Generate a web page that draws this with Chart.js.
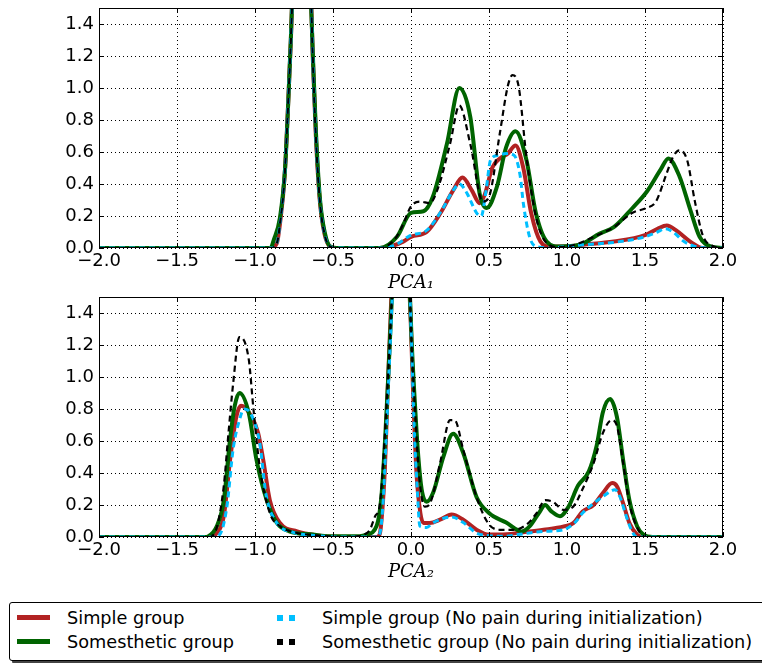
<!DOCTYPE html>
<html>
<head>
<meta charset="utf-8">
<script src="https://cdn.jsdelivr.net/npm/chart.js@4.4.1/dist/chart.umd.min.js"></script>
<style>
  body { margin: 0; background: #fff; width: 762px; height: 663px; overflow: hidden; position: relative; font-family: "DejaVu Sans", sans-serif; }
  canvas { position: absolute; left: 0; }
  #pca1 { top: 0; }
  #pca2 { top: 289px; }
  .legend-box { position: absolute; left: 9px; top: 602px; width: 790px; height: 57px; border: 1px solid #000; border-radius: 3px; background: #fff; box-shadow: 3px 3px 0 #444; }
  .item { position: absolute; font-size: 17.7px; line-height: 20px; color: #000; white-space: nowrap; }
  .swatch { position: absolute; }
</style>
</head>
<body>
<canvas id="pca1" width="762" height="296"></canvas>
<canvas id="pca2" width="762" height="296"></canvas>

<div class="legend-box"></div>
<div class="swatch" style="left:17px;top:615px;width:33px;height:5px;background:#b22222"></div>
<div class="item" style="left:67px;top:608px">Simple group</div>
<div class="swatch" style="left:17px;top:639px;width:33px;height:5px;background:#006400"></div>
<div class="item" style="left:67px;top:632px">Somesthetic group</div>
<div class="swatch" style="left:277px;top:615px;width:6px;height:6px;background:#00bfff"></div>
<div class="swatch" style="left:289px;top:615px;width:6px;height:6px;background:#00bfff"></div>
<div class="item" style="left:322px;top:608px">Simple group (No pain during initialization)</div>
<div class="swatch" style="left:277px;top:639px;width:6px;height:6px;background:#000"></div>
<div class="swatch" style="left:289px;top:639px;width:6px;height:6px;background:#000"></div>
<div class="item" style="left:322px;top:632px">Somesthetic group (No pain during initialization)</div>

<script>
// axis ticks
const xTicks = [-2.0, -1.5, -1.0, -0.5, 0.0, 0.5, 1.0, 1.5, 2.0];
const yTicks = [0.0, 0.2, 0.4, 0.6, 0.8, 1.0, 1.2, 1.4];

const seriesNames = [
  "Simple group",
  "Somesthetic group",
  "Simple group (No pain during initialization)",
  "Somesthetic group (No pain during initialization)"
];

// PCA1 densities, [x, y]
const pca1Simple = [[-2.0,0],[-0.9,0],[-0.86,0.03],[-0.84,0.15],[-0.81,0.45],[-0.79,0.85],[-0.77,1.3],[-0.75,1.9],[-0.72,2.55],[-0.70,2.7],[-0.68,2.55],[-0.65,1.9],[-0.63,1.2],[-0.61,0.7],[-0.585,0.3],[-0.555,0.09],[-0.52,0.01],[-0.48,0],[-0.2,0],[-0.13,0.01],[-0.05,0.04],[0.0,0.07],[0.1,0.1],[0.19,0.22],[0.27,0.36],[0.33,0.44],[0.39,0.36],[0.44,0.28],[0.475,0.34],[0.52,0.5],[0.57,0.56],[0.62,0.59],[0.67,0.64],[0.72,0.5],[0.77,0.22],[0.83,0.04],[0.89,0.01],[1.0,0.01],[1.1,0.02],[1.3,0.04],[1.5,0.08],[1.58,0.12],[1.64,0.14],[1.7,0.11],[1.79,0.04],[1.87,0],[2.0,0]];
const pca1Somesthetic = [[-2.0,0],[-0.9,0],[-0.88,0.05],[-0.84,0.19],[-0.807,0.5],[-0.786,0.93],[-0.769,1.34],[-0.75,1.9],[-0.72,2.55],[-0.70,2.7],[-0.68,2.55],[-0.655,1.9],[-0.626,1.13],[-0.609,0.72],[-0.583,0.3],[-0.551,0.09],[-0.519,0.01],[-0.48,0],[-0.2,0],[-0.09,0.07],[0.0,0.22],[0.08,0.23],[0.14,0.32],[0.23,0.65],[0.31,1.0],[0.38,0.82],[0.44,0.34],[0.485,0.25],[0.55,0.38],[0.61,0.63],[0.67,0.73],[0.74,0.55],[0.8,0.22],[0.87,0.04],[0.95,0.01],[1.08,0.02],[1.21,0.09],[1.3,0.13],[1.42,0.25],[1.51,0.35],[1.6,0.49],[1.65,0.56],[1.72,0.45],[1.79,0.24],[1.85,0.07],[1.92,0.01],[2.0,0]];
const pca1SimpleNP = [[-2.0,0],[-0.9,0],[-0.86,0.03],[-0.84,0.15],[-0.81,0.45],[-0.79,0.85],[-0.77,1.3],[-0.75,1.9],[-0.72,2.55],[-0.70,2.7],[-0.68,2.55],[-0.65,1.9],[-0.63,1.2],[-0.61,0.7],[-0.585,0.3],[-0.555,0.09],[-0.52,0.01],[-0.48,0],[-0.2,0],[-0.1,0.02],[0.0,0.08],[0.1,0.11],[0.2,0.24],[0.27,0.36],[0.31,0.4],[0.36,0.34],[0.42,0.22],[0.45,0.2],[0.48,0.35],[0.51,0.55],[0.56,0.58],[0.61,0.59],[0.66,0.58],[0.7,0.45],[0.72,0.28],[0.76,0.07],[0.8,0.01],[0.9,0],[1.0,0.01],[1.1,0.02],[1.3,0.035],[1.5,0.07],[1.58,0.1],[1.63,0.12],[1.68,0.1],[1.75,0.04],[1.82,0.01],[1.9,0],[2.0,0]];
const pca1SomestheticNP = [[-2.0,0],[-0.9,0],[-0.86,0.03],[-0.84,0.15],[-0.81,0.45],[-0.79,0.85],[-0.77,1.3],[-0.75,1.9],[-0.72,2.55],[-0.70,2.7],[-0.68,2.55],[-0.65,1.9],[-0.63,1.2],[-0.61,0.7],[-0.585,0.3],[-0.555,0.09],[-0.52,0.01],[-0.48,0],[-0.2,0],[-0.1,0.06],[-0.05,0.15],[0.0,0.26],[0.06,0.29],[0.12,0.28],[0.175,0.38],[0.25,0.65],[0.31,0.89],[0.38,0.65],[0.46,0.29],[0.5,0.32],[0.57,0.72],[0.62,1.01],[0.65,1.08],[0.69,1.01],[0.74,0.57],[0.8,0.2],[0.87,0.03],[0.95,0.005],[1.05,0.02],[1.17,0.07],[1.3,0.13],[1.42,0.22],[1.51,0.25],[1.57,0.29],[1.64,0.47],[1.68,0.57],[1.72,0.61],[1.77,0.55],[1.82,0.29],[1.87,0.08],[1.94,0.01],[2.0,0]];

// PCA2 densities, [x, y]
const pca2Simple = [[-2.0,0],[-1.3,0],[-1.245,0.025],[-1.2,0.13],[-1.16,0.48],[-1.12,0.75],[-1.09,0.82],[-1.03,0.765],[-0.98,0.65],[-0.947,0.48],[-0.905,0.23],[-0.84,0.088],[-0.73,0.035],[-0.6,0.01],[-0.45,0],[-0.22,0],[-0.2,0.02],[-0.185,0.15],[-0.167,0.44],[-0.15,0.9],[-0.13,1.4],[-0.11,1.9],[-0.08,2.25],[-0.06,2.3],[-0.04,2.2],[-0.02,1.8],[0.0,1.3],[0.015,0.86],[0.035,0.4],[0.06,0.15],[0.08,0.088],[0.12,0.088],[0.19,0.11],[0.26,0.14],[0.335,0.108],[0.42,0.046],[0.5,0.015],[0.57,0.015],[0.72,0.03],[0.85,0.045],[0.98,0.066],[1.04,0.087],[1.1,0.16],[1.17,0.2],[1.23,0.275],[1.29,0.337],[1.32,0.317],[1.36,0.21],[1.4,0.087],[1.45,0.015],[1.49,0],[2.0,0]];
const pca2Somesthetic = [[-2.0,0],[-1.32,0],[-1.3,0.004],[-1.245,0.067],[-1.2,0.23],[-1.16,0.61],[-1.13,0.82],[-1.1,0.9],[-1.04,0.775],[-0.99,0.48],[-0.925,0.23],[-0.86,0.088],[-0.78,0.035],[-0.63,0.015],[-0.52,0.004],[-0.33,0.005],[-0.285,0.015],[-0.22,0.07],[-0.19,0.25],[-0.166,0.61],[-0.145,1.02],[-0.128,1.38],[-0.1,1.95],[-0.07,2.3],[-0.04,2.2],[-0.01,1.6],[0.004,1.23],[0.026,0.82],[0.047,0.5],[0.068,0.3],[0.1,0.22],[0.143,0.28],[0.207,0.5],[0.27,0.645],[0.335,0.525],[0.42,0.25],[0.5,0.15],[0.61,0.09],[0.71,0.035],[0.76,0.066],[0.82,0.15],[0.86,0.2],[0.9,0.16],[0.955,0.13],[1.01,0.19],[1.07,0.32],[1.14,0.41],[1.19,0.57],[1.23,0.78],[1.276,0.862],[1.32,0.75],[1.36,0.48],[1.4,0.23],[1.45,0.066],[1.49,0.015],[1.55,0],[2.0,0]];
const pca2SimpleNP = [[-2.0,0],[-1.26,0],[-1.22,0.025],[-1.18,0.19],[-1.14,0.55],[-1.1,0.73],[-1.07,0.8],[-1.03,0.775],[-0.97,0.59],[-0.93,0.27],[-0.86,0.088],[-0.76,0.03],[-0.6,0.008],[-0.45,0],[-0.22,0],[-0.2,0.02],[-0.18,0.2],[-0.16,0.6],[-0.14,1.05],[-0.12,1.5],[-0.09,2.1],[-0.06,2.3],[-0.03,2.1],[-0.01,1.6],[0.004,1.2],[0.02,0.7],[0.04,0.3],[0.057,0.067],[0.1,0.06],[0.143,0.09],[0.26,0.125],[0.335,0.09],[0.42,0.025],[0.5,0.008],[0.6,0.005],[0.72,0.02],[0.85,0.035],[0.976,0.045],[1.05,0.09],[1.1,0.15],[1.17,0.21],[1.24,0.26],[1.307,0.295],[1.34,0.25],[1.38,0.13],[1.42,0.03],[1.45,0],[2.0,0]];
const pca2SomestheticNP = [[-2.0,0],[-1.3,0],[-1.245,0.06],[-1.2,0.32],[-1.17,0.65],[-1.14,0.96],[-1.1,1.25],[-1.04,1.11],[-1.01,0.8],[-0.97,0.44],[-0.905,0.15],[-0.84,0.067],[-0.75,0.03],[-0.6,0.01],[-0.45,0],[-0.33,0.005],[-0.3,0.015],[-0.263,0.046],[-0.23,0.13],[-0.2,0.2],[-0.17,0.6],[-0.145,1.05],[-0.125,1.45],[-0.1,1.95],[-0.07,2.3],[-0.04,2.2],[-0.01,1.6],[0.004,1.2],[0.026,0.8],[0.047,0.45],[0.068,0.25],[0.09,0.19],[0.122,0.21],[0.186,0.46],[0.25,0.73],[0.28,0.73],[0.335,0.545],[0.42,0.25],[0.495,0.085],[0.57,0.045],[0.656,0.045],[0.74,0.077],[0.806,0.15],[0.86,0.23],[0.91,0.22],[0.976,0.17],[1.04,0.19],[1.1,0.3],[1.17,0.46],[1.23,0.65],[1.286,0.73],[1.318,0.7],[1.36,0.46],[1.4,0.21],[1.457,0.045],[1.51,0],[2.0,0]];

const minus = (v) => v.toFixed(1).replace("-", "\u2212");

// black frame + inward ticks on all four sides (matplotlib classic look)
const framePlugin = {
  id: "frame",
  afterDraw(chart) {
    const { ctx, chartArea: a, scales: { x, y } } = chart;
    ctx.save();
    ctx.strokeStyle = "#000";
    ctx.lineWidth = 1;
    ctx.strokeRect(Math.round(a.left) + 0.5, Math.round(a.top) + 0.5, Math.round(a.width) - 1, Math.round(a.height) - 1);
    ctx.beginPath();
    xTicks.forEach((v) => {
      const px = Math.round(x.getPixelForValue(v)) + 0.5;
      ctx.moveTo(px, a.bottom); ctx.lineTo(px, a.bottom - 5);
      ctx.moveTo(px, a.top); ctx.lineTo(px, a.top + 5);
    });
    yTicks.forEach((v) => {
      const py = Math.round(y.getPixelForValue(v)) + 0.5;
      ctx.moveTo(a.left, py); ctx.lineTo(a.left + 5, py);
      ctx.moveTo(a.right, py); ctx.lineTo(a.right - 5, py);
    });
    ctx.stroke();
    ctx.restore();
  }
};

function makeDataset(label, points, color, width, dash, order) {
  return {
    label,
    data: points.map((p) => ({ x: p[0], y: p[1] })),
    borderColor: color,
    backgroundColor: color,
    borderWidth: width,
    borderDash: dash,
    pointRadius: 0,
    cubicInterpolationMode: "monotone",
    clip: 0,
    order
  };
}

function renderPanel(canvasId, title, simple, somesthetic, simpleNP, somestheticNP) {
  return new Chart(document.getElementById(canvasId), {
    type: "line",
    data: {
      datasets: [
        makeDataset(seriesNames[0], simple, "#b22222", 4, [], 4),
        makeDataset(seriesNames[1], somesthetic, "#006400", 4, [], 3),
        makeDataset(seriesNames[2], simpleNP, "#00bfff", 3, [6, 4], 2),
        makeDataset(seriesNames[3], somestheticNP, "#000000", 2.2, [6, 4], 1)
      ]
    },
    options: {
      responsive: false,
      animation: false,
      devicePixelRatio: 1,
      layout: { padding: { left: 0, right: 39, top: 8, bottom: 0 } },
      plugins: { legend: { display: false }, tooltip: { enabled: false } },
      scales: {
        x: {
          type: "linear",
          min: -2,
          max: 2,
          afterBuildTicks: (s) => { s.ticks = xTicks.map((v) => ({ value: v })); },
          afterFit: (s) => { s.height = 48; s.paddingLeft = 0; s.paddingRight = 0; },
          ticks: { color: "#000", padding: 3, maxRotation: 0, font: { family: "DejaVu Sans", size: 18 }, callback: (v) => minus(v) },
          grid: { color: "#000", lineWidth: 1, drawTicks: false },
          border: { display: false, dash: [1, 3] },
          title: { display: true, text: title, color: "#000", padding: { top: 0, bottom: 2 }, font: { family: "DejaVu Serif", style: "italic", size: 18 } }
        },
        y: {
          min: 0,
          max: 1.5,
          afterBuildTicks: (s) => { s.ticks = yTicks.map((v) => ({ value: v })); },
          afterFit: (s) => { s.width = 99; s.paddingTop = 0; s.paddingBottom = 0; },
          ticks: { color: "#000", padding: 5, font: { family: "DejaVu Sans", size: 18 }, callback: (v) => v.toFixed(1) },
          grid: { color: "#000", lineWidth: 1, drawTicks: false },
          border: { display: false, dash: [1, 3] }
        }
      }
    },
    plugins: [framePlugin]
  });
}

renderPanel("pca1", "PCA\u2081", pca1Simple, pca1Somesthetic, pca1SimpleNP, pca1SomestheticNP);
renderPanel("pca2", "PCA\u2082", pca2Simple, pca2Somesthetic, pca2SimpleNP, pca2SomestheticNP);
</script>
</body>
</html>
